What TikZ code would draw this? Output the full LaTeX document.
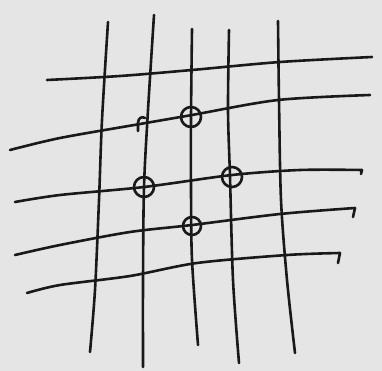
\documentclass[tikz,border=0pt]{standalone}
\begin{document}
\begin{tikzpicture}[x=1pt,y=-1pt,
  ink/.style={draw=black!90,line width=2.6pt,line cap=round,line join=round},
  ring/.style={draw=black!90,line width=2.6pt}]
\fill[black!10] (0,0) rectangle (382,371);
\useasboundingbox (0,0) rectangle (382,371);
% vertical lines
\draw[ink] plot[smooth] coordinates {(108,22) (102,120) (99,200) (95,290) (90,352)};
\draw[ink] plot[smooth] coordinates {(154,15) (148,110) (144,187) (143,280) (143,367)};
\draw[ink] plot[smooth] coordinates {(192,29) (191,117) (191,190) (192,260) (198,345)};
\draw[ink] plot[smooth] coordinates {(229,30) (228,110) (230,177) (233,280) (239,363)};
\draw[ink] plot[smooth] coordinates {(278,21) (279,100) (281,200) (287,280) (295,353)};
% horizontal lines
\draw[ink] plot[smooth] coordinates {(47,80) (120,76) (192,70) (280,62) (372,57)};
\draw[ink] plot[smooth] coordinates {(10,150) (60,138) (140,124) (192,115) (278,100) (370,95)};
\draw[ink] plot[smooth] coordinates {(15,202) (60,195) (144,187) (232,175) (300,170) (362,170)} -- (361,174);
\draw[ink] plot[smooth] coordinates {(15,255) (60,245) (130,232) (192,225) (280,214) (355,208)} -- (353,217);
\draw[ink] plot[smooth] coordinates {(27,293) (60,285) (130,276) (197,263) (287,255) (340,253)} -- (338,263);
% small hook
\draw[ink] (138,131) -- (138,123) .. controls (138,118) and (142,116) .. (145,118);
% circles
\draw[ring] (191,117) circle (10);
\draw[ring] (144,187) circle (10);
\draw[ring] (232,177) circle (10);
\draw[ring] (192,226) circle (9);
\end{tikzpicture}
\end{document}
